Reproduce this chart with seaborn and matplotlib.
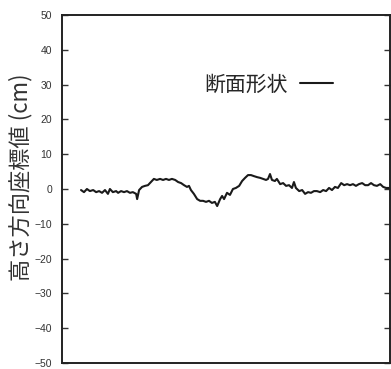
import seaborn as sns
import matplotlib.pyplot as plt
import pandas as pd

# horizontal position (axis spans 0-100, no labels shown) and height in cm
pos = [5.8, 6.7, 7.6, 8.5, 9.5, 10.4, 11.3, 12.2, 13.1, 14.0, 14.6, 15.5, 16.5, 17.1, 18.0,
       18.9, 19.8, 20.7, 21.6, 22.6, 22.9, 23.5, 24.4, 25.3, 26.2, 27.1, 28.0, 28.9, 29.9,
       30.8, 31.7, 32.6, 33.5, 34.5, 35.4, 36.3, 37.2, 38.1, 38.7, 39.3, 40.2, 41.2, 42.1,
       43.0, 43.9, 44.8, 45.7, 46.6, 47.3, 48.2, 48.8, 49.4, 50.3, 51.2, 52.1, 53.0, 54.0,
       54.9, 55.8, 56.7, 57.6, 58.5, 59.5, 60.4, 61.3, 62.2, 62.8, 63.4, 64.0, 64.9, 65.5,
       66.5, 67.4, 68.3, 69.2, 70.1, 70.7, 71.3, 72.3, 73.2, 74.1, 75.0, 75.9, 76.8, 77.7,
       78.7, 79.6, 80.5, 81.4, 82.3, 83.2, 84.1, 85.1, 86.0, 86.9, 87.8, 88.7, 89.6, 90.5,
       91.5, 92.4, 93.3, 94.2, 95.1, 96.0, 97.0, 97.9, 98.8, 100.0]
height = [-0.3, -0.9, 0.0, -0.6, -0.3, -0.9, -0.6, -1.1, -0.3, -1.4, 0.0, -0.9, -0.6, -1.1, -0.6,
          -0.9, -0.6, -1.1, -0.9, -1.4, -2.9, -0.3, 0.6, 0.9, 1.1, 2.0, 2.9, 2.6, 2.9,
          2.6, 2.9, 2.6, 2.9, 2.6, 2.0, 1.7, 1.1, 0.6, 0.9, -0.3, -1.4, -2.9, -3.4,
          -3.4, -3.7, -3.4, -4.0, -3.7, -4.9, -2.9, -2.0, -2.9, -1.1, -1.7, 0.0, 0.3, 0.9,
          2.3, 3.2, 4.0, 4.0, 3.7, 3.4, 3.2, 2.9, 2.6, 2.9, 4.3, 2.6, 2.3, 2.9,
          1.4, 1.7, 0.9, 1.1, 0.3, 2.0, 0.3, -0.6, -0.3, -1.4, -0.9, -1.1, -0.6, -0.6,
          -0.9, -0.3, -0.6, 0.3, -0.3, 0.6, 0.3, 1.7, 1.1, 1.4, 1.1, 1.4, 0.9, 1.4,
          1.7, 1.1, 1.1, 1.7, 1.1, 0.9, 1.4, 0.6, 0.3, 0.3]
series_label = '断面形状'
y_ticks = [-50, -40, -30, -20, -10, 0, 10, 20, 30, 40, 50]

df = pd.DataFrame({'pos': pos, 'height': height})

sns.set_style('ticks')
plt.rcParams['font.family'] = ['Liberation Sans', 'Noto Sans CJK JP', 'DejaVu Sans']

fig = plt.figure(figsize=(3.91, 3.69), dpi=100)
ax = fig.add_axes([0.1586, 0.0163, 0.839, 0.943])

sns.lineplot(data=df, x='pos', y='height', ax=ax, color='#1a1a1a', linewidth=1.5, label=series_label)

ax.set_xlim(0, 100)
ax.set_ylim(-50, 50)
ax.set_yticks(y_ticks)
ax.set_xticks([])
ax.tick_params(axis='y', direction='in', length=4, width=1, labelsize=7.5, right=True, pad=7, colors='#333333')
for s in ax.spines.values():
    s.set_linewidth(1.4)
    s.set_color('#222222')
ax.set_xlabel('')
ax.set_ylabel('高さ方向座標値 (cm)', fontsize=16, family=['Noto Sans CJK JP', 'DejaVu Sans'],
              color='#333333')
ax.yaxis.set_label_coords(-0.09, 0.535)

ax.legend(loc='center', bbox_to_anchor=(0.63, 0.80), frameon=False, markerfirst=False,
          handlelength=1.6, handletextpad=0.6,
          prop={'family': ['Noto Sans CJK JP', 'DejaVu Sans'], 'size': 15})

fig.savefig('out.png', dpi=100)
